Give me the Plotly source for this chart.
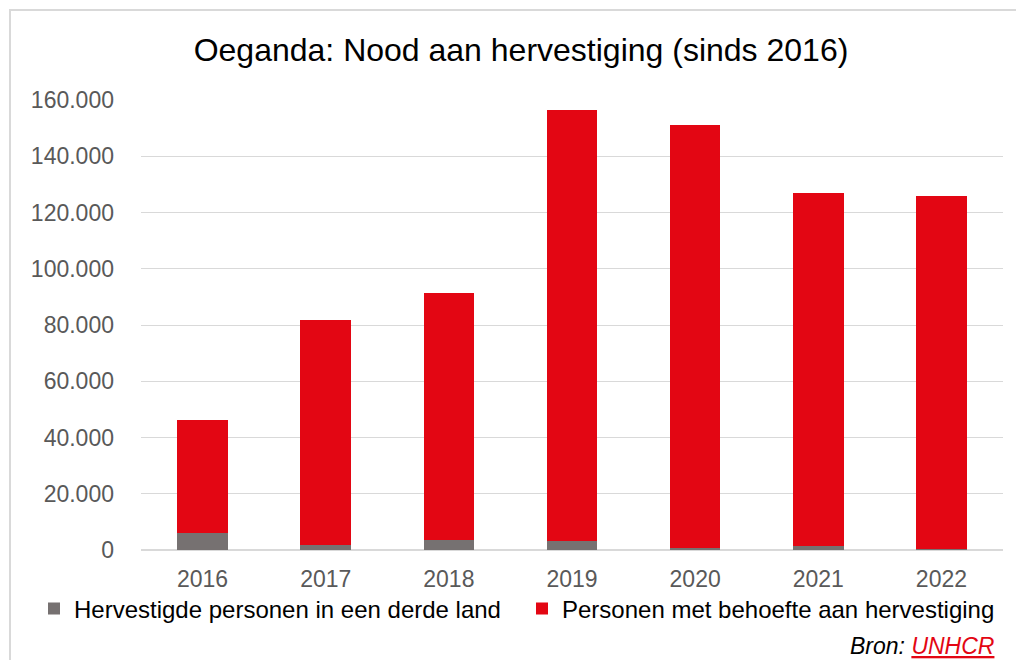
import plotly.graph_objects as go

years = ["2016", "2017", "2018", "2019", "2020", "2021", "2022"]
hervestigd = [5900, 1800, 3700, 3100, 700, 1300, 250]
behoefte = [40200, 80000, 87700, 153200, 150300, 125500, 125450]

series_names = ["Hervestigde personen in een derde land", "Personen met behoefte aan hervestiging"]
colors = ["#767171", "#E30613"]

W, H = 1016, 660
L, R, T, B = 141, 13, 100, 110
pw, ph = W - L - R, H - T - B

def px_x(p):
    return (p - L) / pw

def px_y(p):
    return (H - B - p) / ph

fig = go.Figure()
fig.add_trace(go.Bar(x=years, y=hervestigd, name=series_names[0],
                     marker=dict(color=colors[0], line=dict(width=0))))
fig.add_trace(go.Bar(x=years, y=behoefte, name=series_names[1],
                     marker=dict(color=colors[1], line=dict(width=0))))

font_family = "Liberation Sans, Arial, sans-serif"

fig.update_layout(
    width=W, height=H,
    margin=dict(l=L, r=R, t=T, b=B),
    barmode="stack",
    bargap=0.59,
    separators=",.",
    paper_bgcolor="white",
    plot_bgcolor="white",
    font=dict(family=font_family, color="#000000"),
    title=dict(text="Oeganda: Nood aan hervestiging (sinds 2016)",
               x=521 / W, xref="container", xanchor="center",
               y=1 - 50 / H, yref="container", yanchor="middle",
               font=dict(size=32, color="#000000", family=font_family)),
    xaxis=dict(showgrid=False, tickfont=dict(size=23, color="#595959"),
               showline=False, ticks="", ticklabelstandoff=13),
    yaxis=dict(range=[0, 160000], dtick=20000, tickformat=",d",
               gridcolor="#d9d9d9", gridwidth=1,
               zeroline=True, zerolinecolor="#d9d9d9", zerolinewidth=2,
               tickfont=dict(size=23, color="#595959"), ticklabelstandoff=26,
               showline=False),
    legend=dict(orientation="h", x=px_x(34), xanchor="left",
                y=px_y(609), yanchor="middle", traceorder="normal",
                font=dict(size=24, color="#000000"),
                itemwidth=30, entrywidth=443, entrywidthmode="pixels",
                bgcolor="rgba(0,0,0,0)"),
    showlegend=True,
)

fig.add_annotation(
    text="<i>Bron: <span style='color:#E30613;text-decoration:underline'>UNHCR</span></i>",
    xref="paper", yref="paper", x=px_x(996), y=px_y(646),
    xanchor="right", yanchor="middle", showarrow=False,
    font=dict(size=23, color="#000000", family=font_family))

fig.add_shape(type="rect", xref="paper", yref="paper",
              x0=px_x(10), x1=px_x(1040), y0=px_y(690), y1=px_y(10),
              line=dict(color="#d9d9d9", width=2), fillcolor="rgba(0,0,0,0)", layer="below")

fig.write_html("out.html", config={"displayModeBar": False},
               post_script="document.body.style.margin='0px';")
